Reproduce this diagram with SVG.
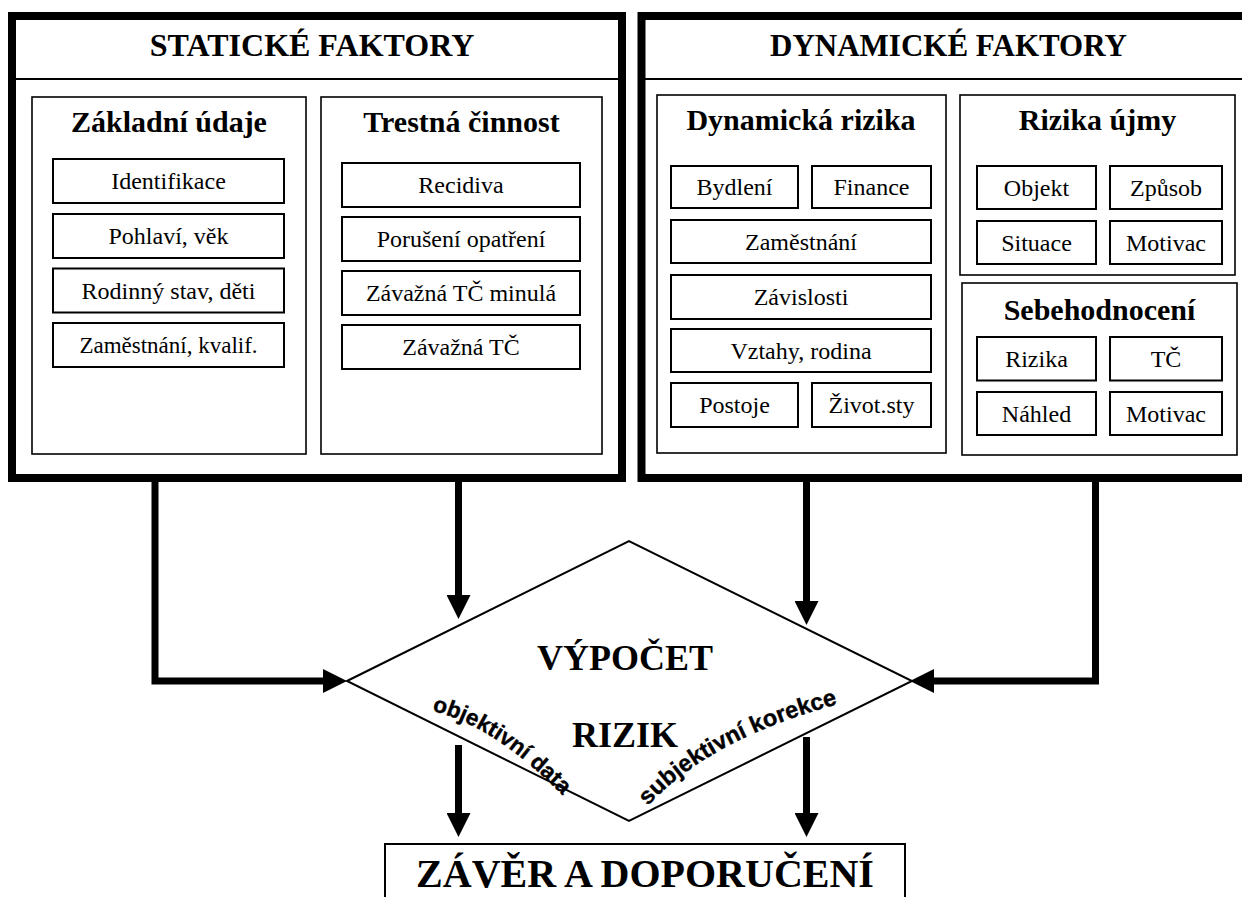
<svg xmlns="http://www.w3.org/2000/svg" width="1242" height="897" viewBox="0 0 1242 897">
<defs>
<style>
.big{fill:#fff;stroke:#000;stroke-width:8}
.sub{fill:#fff;stroke:#000;stroke-width:1.6}
.item{fill:#fff;stroke:#000;stroke-width:2}
.hd{fill:none;stroke:#000;stroke-width:2}
.t1{font-family:"Liberation Serif","Times New Roman",serif;font-weight:bold;font-size:32px;text-anchor:middle;fill:#000}
.t2{font-family:"Liberation Serif","Times New Roman",serif;font-weight:bold;font-size:30px;text-anchor:middle;fill:#000}
.it{font-family:"Liberation Serif","Times New Roman",serif;font-size:24px;text-anchor:middle;fill:#000}
.big2{font-family:"Liberation Serif","Times New Roman",serif;font-weight:bold;font-size:36px;text-anchor:middle;fill:#000}
.wa{font-family:"Liberation Sans",Arial,sans-serif;font-weight:bold;fill:#000;stroke:#000;stroke-width:0.4}
.conn{fill:none;stroke:#000;stroke-width:7;stroke-linejoin:miter}
</style>
<marker id="ah" viewBox="0 -12 24 24" refX="0" refY="0" markerWidth="24" markerHeight="24" markerUnits="userSpaceOnUse" orient="auto">
<path d="M0,-12 L24,0 L0,12 Z" fill="#000"/>
</marker>
<path id="p1" d="M 432 711 Q 498 726 575 808"/>
<path id="p2" d="M 648 806 Q 711 737 846 702"/>
</defs>
<rect width="1242" height="897" fill="#fff"/>

<g id="static">
<rect class="big" x="12" y="16" width="610" height="462"/>
<line class="hd" x1="16" y1="79" x2="618" y2="79"/>
<text class="t1" x="312" y="56">STATICKÉ FAKTORY</text>
</g>

<g id="zakladni">
<rect class="sub" x="32" y="97" width="274" height="357"/>
<text class="t2" x="169" y="132">Základní údaje</text>
<rect class="item" x="53" y="159" width="231" height="44"/>
<text class="it" x="168.5" y="189">Identifikace</text>
<rect class="item" x="53" y="214" width="231" height="44"/>
<text class="it" x="168.5" y="244">Pohlaví, věk</text>
<rect class="item" x="53" y="268.5" width="231" height="44"/>
<text class="it" x="168.5" y="298.5">Rodinný stav, děti</text>
<rect class="item" x="53" y="323" width="231" height="44"/>
<text class="it" x="168.5" y="352.5" style="font-size:23px">Zaměstnání, kvalif.</text>
</g>

<g id="trestna">
<rect class="sub" x="321" y="97" width="281" height="357"/>
<text class="t2" x="461.5" y="132">Trestná činnost</text>
<rect class="item" x="342" y="163" width="238" height="44"/>
<text class="it" x="461" y="193">Recidiva</text>
<rect class="item" x="342" y="217" width="238" height="44"/>
<text class="it" x="461" y="247">Porušení opatření</text>
<rect class="item" x="342" y="271" width="238" height="44"/>
<text class="it" x="461" y="301">Závažná TČ minulá</text>
<rect class="item" x="342" y="325" width="238" height="44"/>
<text class="it" x="461" y="355">Závažná TČ</text>
</g>

<g id="dynamic">
<rect class="big" x="641.5" y="16" width="611" height="462"/>
<line class="hd" x1="645" y1="79" x2="1250" y2="79"/>
<text class="t1" x="948.5" y="56" style="font-size:31px">DYNAMICKÉ FAKTORY</text>
</g>

<g id="dynrizika">
<rect class="sub" x="657" y="95" width="289" height="358"/>
<text class="t2" x="801" y="130">Dynamická rizika</text>
<rect class="item" x="671" y="166" width="127" height="42"/>
<text class="it" x="734.5" y="195">Bydlení</text>
<rect class="item" x="812" y="166" width="119" height="42"/>
<text class="it" x="871.5" y="195">Finance</text>
<rect class="item" x="671" y="220" width="260" height="43"/>
<text class="it" x="801" y="249.5">Zaměstnání</text>
<rect class="item" x="671" y="275" width="260" height="44"/>
<text class="it" x="801" y="305">Závislosti</text>
<rect class="item" x="671" y="329" width="260" height="43"/>
<text class="it" x="801" y="358.5">Vztahy, rodina</text>
<rect class="item" x="671" y="383" width="127" height="44"/>
<text class="it" x="734.5" y="413">Postoje</text>
<rect class="item" x="812" y="383" width="119" height="44"/>
<text class="it" x="871.5" y="413">Život.sty</text>
</g>

<g id="ujma">
<rect class="sub" x="960" y="95" width="275" height="180"/>
<text class="t2" x="1097.5" y="130">Rizika újmy</text>
<rect class="item" x="977" y="166" width="119" height="43"/>
<text class="it" x="1036.5" y="195.5">Objekt</text>
<rect class="item" x="1110" y="166" width="112" height="43"/>
<text class="it" x="1166" y="195.5">Způsob</text>
<rect class="item" x="977" y="221" width="119" height="43"/>
<text class="it" x="1036.5" y="250.5">Situace</text>
<rect class="item" x="1110" y="221" width="112" height="43"/>
<text class="it" x="1166" y="250.5">Motivac</text>
</g>

<g id="sebehodnoceni">
<rect class="sub" x="962" y="283" width="275" height="172"/>
<text class="t2" x="1099.5" y="320">Sebehodnocení</text>
<rect class="item" x="977" y="337" width="119" height="43.5"/>
<text class="it" x="1036.5" y="366.5">Rizika</text>
<rect class="item" x="1110" y="337" width="112" height="43.5"/>
<text class="it" x="1166" y="366.5">TČ</text>
<rect class="item" x="977" y="392" width="119" height="43"/>
<text class="it" x="1036.5" y="421.5">Náhled</text>
<rect class="item" x="1110" y="392" width="112" height="43"/>
<text class="it" x="1166" y="421.5">Motivac</text>
</g>

<g id="vypocet">
<polygon points="347,681 629,541 912,681 629,821" fill="#fff" stroke="#000" stroke-width="2"/>
<text class="big2" x="625" y="670">VÝPOČET</text>
<text class="big2" x="625" y="747">RIZIK</text>
<text class="wa" style="font-size:22.5px"><textPath href="#p1">objektivní data</textPath></text>
<text class="wa" style="font-size:23.5px"><textPath href="#p2">subjektivní korekce</textPath></text>
</g>

<g id="zaver">
<rect x="385" y="844" width="520" height="70" fill="#fff" stroke="#000" stroke-width="2"/>
<text class="big2" x="645" y="887" style="font-size:40px">ZÁVĚR A DOPORUČENÍ</text>
</g>

<g id="connectors">
<path class="conn" d="M 155 480 V 681 H 323" marker-end="url(#ah)"/>
<path class="conn" d="M 458.5 480 V 595" marker-end="url(#ah)"/>
<path class="conn" d="M 806.5 480 V 601" marker-end="url(#ah)"/>
<path class="conn" d="M 1095.5 480 V 681 H 934" marker-end="url(#ah)"/>
<path class="conn" d="M 458.5 745 V 813" marker-end="url(#ah)"/>
<path class="conn" d="M 806.5 737 V 813" marker-end="url(#ah)"/>
</g>
</svg>
